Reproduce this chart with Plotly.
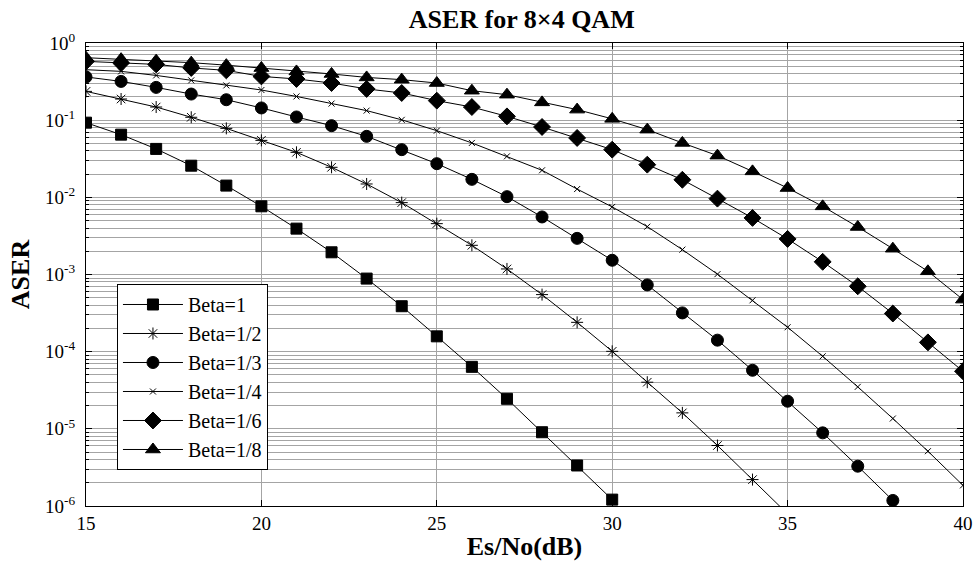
import plotly.graph_objects as go

snr = list(range(15, 41))

beta_1 = [0.0928, 0.0649, 0.0424, 0.0257, 0.0142, 0.00765, 0.00393, 0.00194, 8.85e-4, 3.88e-4,
          1.58e-4, 6.36e-5, 2.45e-5, 9.04e-6, 3.35e-6, 1.21e-6]
beta_1_2 = [0.236, 0.188, 0.148, 0.109, 0.0783, 0.0547, 0.0383, 0.0245, 0.0149, 0.00854,
            0.00456, 0.00239, 0.00118, 5.49e-4, 2.40e-4, 1.01e-4, 4.02e-5, 1.61e-5, 6.08e-6, 2.20e-6,
            7.9e-7]
beta_1_3 = [0.363, 0.318, 0.266, 0.218, 0.184, 0.144, 0.110, 0.0849, 0.0617, 0.0415,
            0.0273, 0.0171, 0.0102, 0.00557, 0.00294, 0.00153, 7.33e-4, 3.18e-4, 1.41e-4, 5.74e-5,
            2.28e-5, 8.87e-6, 3.28e-6, 1.18e-6]
beta_1_4 = [0.451, 0.429, 0.380, 0.328, 0.282, 0.246, 0.203, 0.164, 0.133, 0.101,
            0.0731, 0.0507, 0.0340, 0.0224, 0.0128, 0.00751, 0.00417, 0.00210, 0.00101, 4.63e-4,
            2.07e-4, 8.71e-5, 3.50e-5, 1.36e-5, 5.13e-6, 1.85e-6]
beta_1_6 = [0.578, 0.551, 0.528, 0.475, 0.442, 0.369, 0.342, 0.303, 0.254, 0.225,
            0.179, 0.148, 0.112, 0.0816, 0.0588, 0.0415, 0.0265, 0.0169, 0.00962, 0.00541,
            0.00289, 0.00146, 7.03e-4, 3.12e-4, 1.32e-4, 5.57e-5]
beta_1_8 = [0.645, 0.617, 0.590, 0.556, 0.516, 0.474, 0.428, 0.397, 0.358, 0.335,
            0.303, 0.241, 0.214, 0.170, 0.137, 0.104, 0.0754, 0.0507, 0.0347, 0.0217,
            0.0132, 0.00764, 0.00413, 0.00216, 0.00110, 4.73e-4]

y_tick_vals = [1e-6, 1e-5, 1e-4, 1e-3, 1e-2, 1e-1, 1]
y_tick_text = ["10<sup>-6</sup>", "10<sup>-5</sup>", "10<sup>-4</sup>", "10<sup>-3</sup>",
               "10<sup>-2</sup>", "10<sup>-1</sup>", "10<sup>0</sup>"]

series = [
    ("Beta=1", beta_1, "square", 11),
    ("Beta=1/2", beta_1_2, "asterisk-open", 10),
    ("Beta=1/3", beta_1_3, "circle", 12),
    ("Beta=1/4", beta_1_4, "x-thin-open", 6),
    ("Beta=1/6", beta_1_6, "diamond", 13),
    ("Beta=1/8", beta_1_8, "triangle-up", 13),
]

fig = go.Figure()
for name, vals, sym, sz in series:
    fig.add_trace(go.Scatter(
        x=snr[:len(vals)], y=vals, name=name, mode="lines+markers",
        line=dict(color="black", width=1),
        marker=dict(symbol=sym, size=sz, color="black",
                    line=dict(color="black", width=1)),
    ))

font_family = "Times New Roman, Liberation Serif, DejaVu Serif, serif"
grid_color = "#a4a4a4"

fig.update_layout(
    width=977, height=568,
    margin=dict(l=86, r=14, t=43, b=62, autoexpand=False),
    paper_bgcolor="white", plot_bgcolor="white",
    font=dict(family=font_family, size=19, color="black"),
    title=dict(text="<b>ASER for 8×4 QAM</b>", x=0.534, xanchor="center",
               y=0.967, yanchor="middle", font=dict(size=26, family=font_family)),
    legend=dict(x=0.0353, y=0.4795, xanchor="left", yanchor="top",
                bordercolor="black", borderwidth=1, bgcolor="white",
                font=dict(size=20, family=font_family), tracegroupgap=0,
                itemwidth=60),
    showlegend=True,
)

fig.update_xaxes(
    range=[15, 40], dtick=5, tick0=15, automargin=False,
    showline=True, linecolor="black", linewidth=1, mirror="ticks",
    ticks="inside", ticklen=6, tickcolor="black",
    showgrid=True, gridcolor=grid_color, gridwidth=1,
    zeroline=False,
    tickfont=dict(size=19, family=font_family),
    title=dict(text="<b>Es/No(dB)</b>", font=dict(size=26, family=font_family), standoff=4),
)
fig.update_yaxes(
    type="log", range=[-6, 0], automargin=False,
    tickmode="array", tickvals=y_tick_vals, ticktext=y_tick_text,
    showline=True, linecolor="black", linewidth=1, mirror="ticks",
    ticks="inside", ticklen=6, tickcolor="black",
    showgrid=True, gridcolor=grid_color, gridwidth=1,
    minor=dict(dtick="D1", showgrid=True, gridcolor=grid_color, gridwidth=1,
               ticks="inside", ticklen=3, tickcolor="black"),
    zeroline=False,
    ticklabelstandoff=6,
    tickfont=dict(size=19, family=font_family),
    title=dict(text="<b>ASER</b>", font=dict(size=26, family=font_family), standoff=8),
)

fig.write_html("out.html")
